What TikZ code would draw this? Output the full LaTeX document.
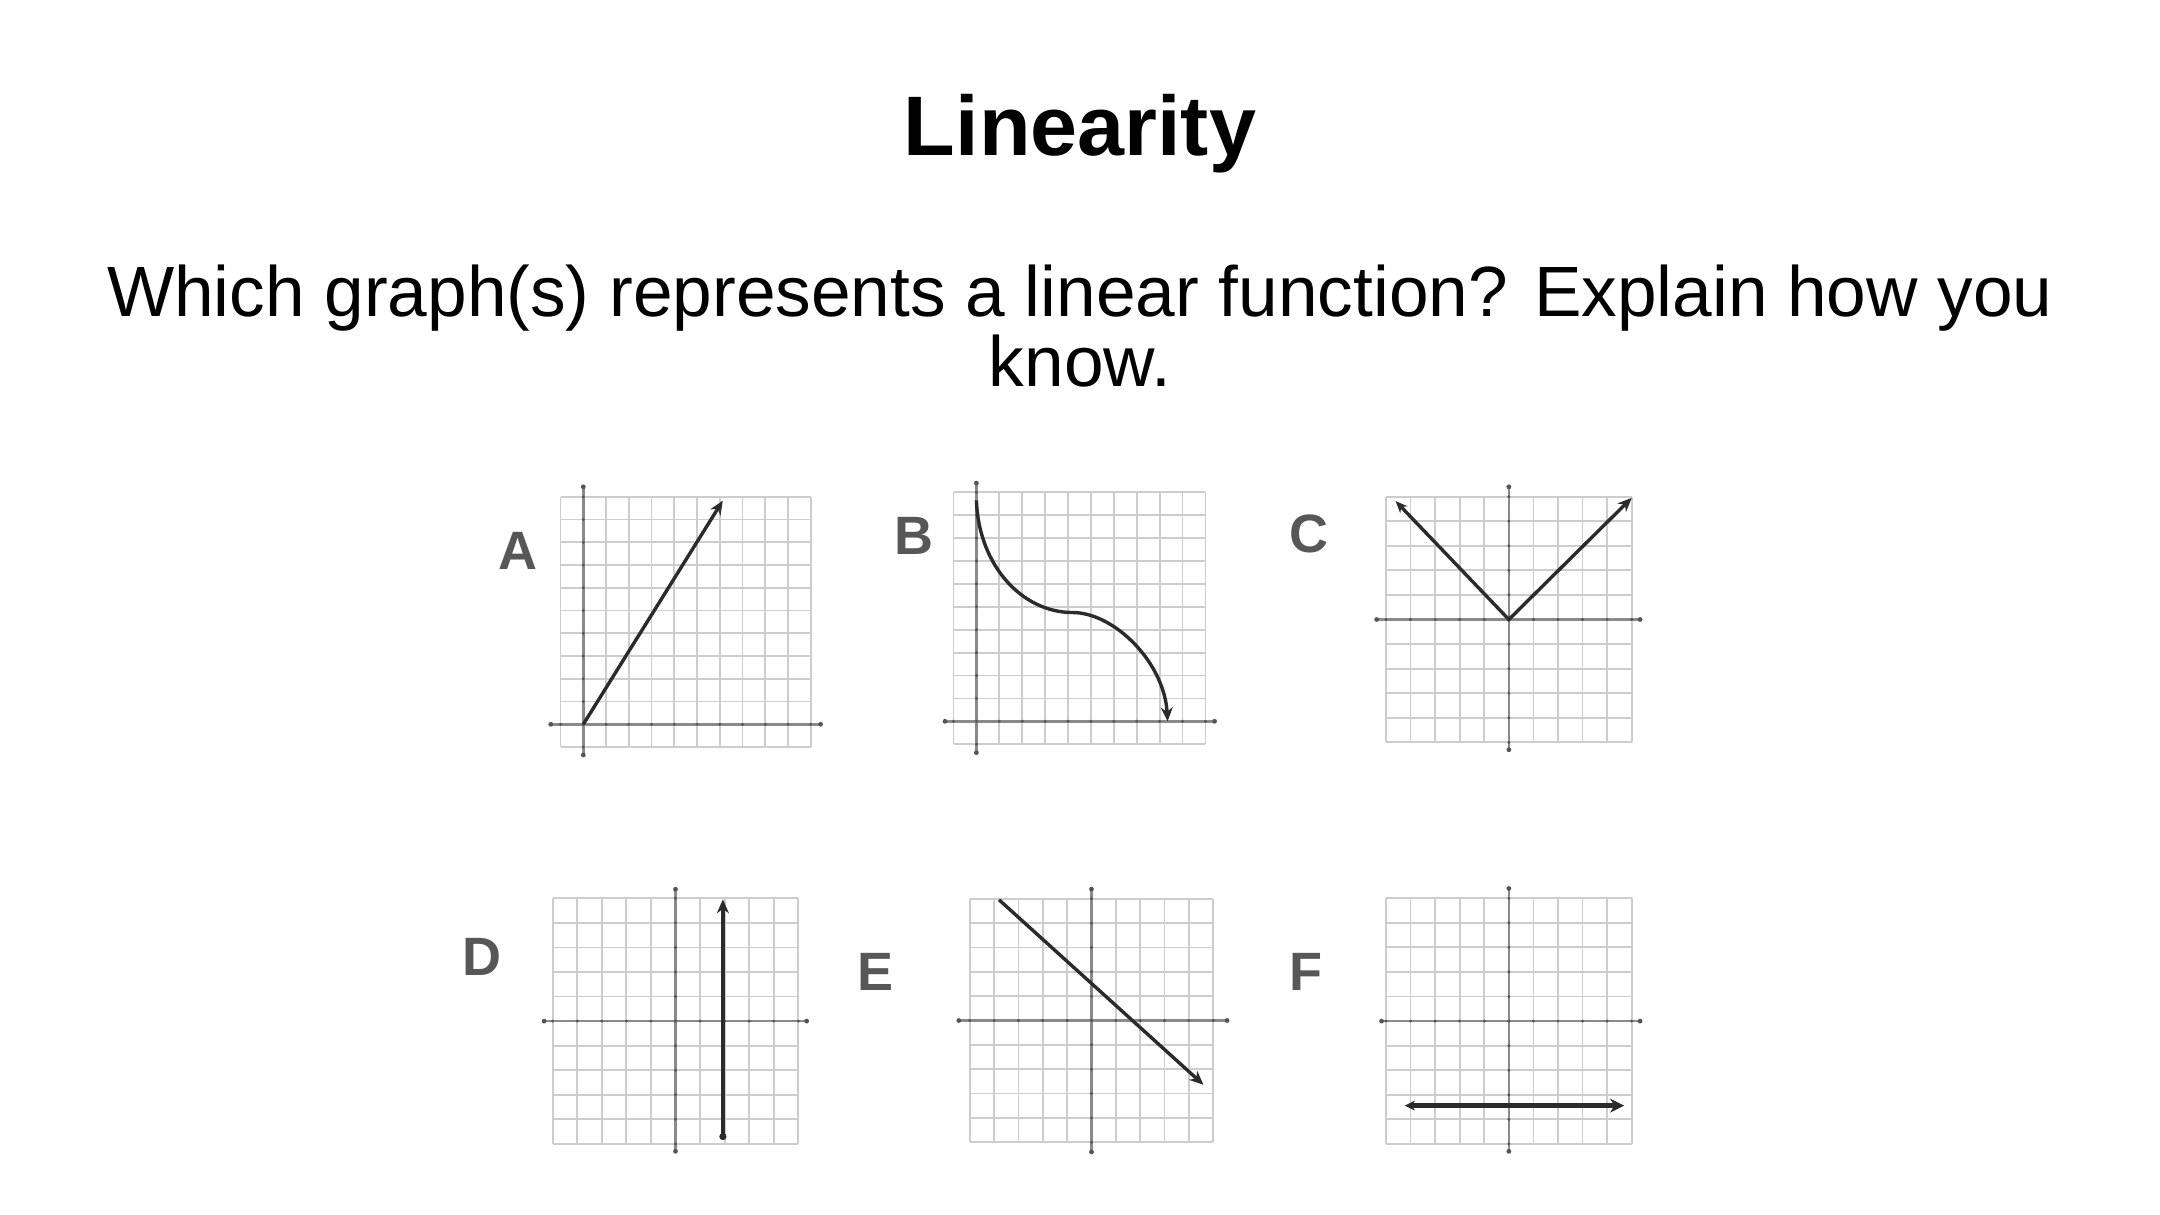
\documentclass[tikz,border=0pt]{standalone}
\usepackage{fontspec}
\setmainfont{Liberation Sans}
\usetikzlibrary{arrows.meta}
\definecolor{gridc}{HTML}{CDCDCD}
\definecolor{axisc}{HTML}{8A8A8A}
\definecolor{tickc}{HTML}{555555}
\definecolor{curvec}{HTML}{2B2B2B}
\definecolor{labelc}{HTML}{575757}
\newcommand{\gridaxes}[8]{%
  \foreach \i in {#1,...,#2} \draw[gridline] (\i,#3) -- (\i,#4);
  \foreach \j in {#3,...,#4} \draw[gridline] (#1,\j) -- (#2,\j);
  \draw[axisline] (#5,0) -- (#6,0);
  \draw[axisline] (0,#7) -- (0,#8);
  \foreach \i in {#1,...,#2} \fill[tickc] (\i,0) circle (0.8pt);
  \foreach \j in {#3,...,#4} \fill[tickc] (0,\j) circle (0.8pt);
  \fill[tickc] (#5,0) circle (1.2pt) (#6,0) circle (1.2pt) (0,#7) circle (1.2pt) (0,#8) circle (1.2pt);
}
\begin{document}
\begin{tikzpicture}[x=0.5pt,y=-0.5pt,
  gridline/.style={draw=gridc, line width=0.9pt},
  axisline/.style={draw=axisc, line width=1.2pt},
  curve/.style={draw=curvec, line width=1.7pt},
  bigtip/.style={-{Stealth[length=7pt,width=6pt]}},
  lbl/.style={font=\fontsize{27pt}{30pt}\selectfont\bfseries, text=labelc, inner sep=0pt}]
\useasboundingbox[fill=white] (0,0) rectangle (2160,1215);

% title and question
\node[anchor=base, inner sep=0pt, font=\fontsize{42.25pt}{50pt}\selectfont\bfseries] (title) at (1080,155) {Linearity};
\node[anchor=base, inner sep=0pt, font=\fontsize{35.6pt}{40pt}\selectfont] (q1) at (1080,316.7) {Which graph(s) represents a linear function? Explain how you};
\node[anchor=base, inner sep=0pt, font=\fontsize{35.6pt}{40pt}\selectfont] (q2) at (1080,386) {know.};

% labels
\node[lbl] (labA) at (518,551) {A};
\node[lbl] (labB) at (914,536) {B};
\node[lbl] (labC) at (1309,534) {C};
\node[lbl] (labD) at (482,957) {D};
\node[lbl] (labE) at (876,972) {E};
\node[lbl] (labF) at (1306,972) {F};

% graph A
\begin{scope}[shift={(583.3,724.3)}, x=11.375pt, y=11.375pt]
  \gridaxes{-1}{10}{-1}{10}{-1.43}{10.43}{-1.35}{10.44}
  \draw[curve, bigtip] (0,0) -- (6.13,9.83);
\end{scope}

% graph B
\begin{scope}[shift={(976.4,721.3)}, x=11.45pt, y=11.45pt]
  \gridaxes{-1}{10}{-1}{10}{-1.37}{10.4}{-1.37}{10.4}
  \coordinate (bs) at (0,9.65);
  \coordinate (bm) at (4.2,4.75);
  \coordinate (be) at (8.35,0);
  \draw[curve, bigtip] (bs) .. controls (0.1,6.8) and (2.0,4.75) .. (bm)
                           .. controls (6.0,4.75) and (8.2,2.6) .. (be);
\end{scope}

% graph C
\begin{scope}[shift={(1508.85,619.5)}, x=12.285pt, y=12.285pt]
  \gridaxes{-5}{5}{-5}{5}{-5.38}{5.34}{-5.3}{5.4}
  \draw[curve, {Stealth[length=6pt,width=5pt]}-{Stealth[length=7pt,width=6pt]}] (-4.61,4.82) -- (0,0) -- (5.0,4.95);
\end{scope}

% graph D
\begin{scope}[shift={(675.5,1021.1)}, x=12.28pt, y=12.28pt]
  \gridaxes{-5}{5}{-5}{5}{-5.35}{5.34}{-5.3}{5.37}
  \draw[curve, bigtip] (1.93,-4.7) -- (1.93,4.96);
  \fill[curvec] (1.93,-4.7) circle (1.8pt);
\end{scope}

% graph E
\begin{scope}[shift={(1091.5,1020.5)}, x=12.17pt, y=12.17pt]
  \gridaxes{-5}{5}{-5}{5}{-5.45}{5.57}{-5.4}{5.4}
  \draw[curve, bigtip] (-3.8,4.96) -- (4.6,-2.64);
\end{scope}

% graph F
\begin{scope}[shift={(1508.85,1021.1)}, x=12.285pt, y=12.285pt]
  \gridaxes{-5}{5}{-5}{5}{-5.18}{5.34}{-5.3}{5.4}
  \draw[curve, line width=2.4pt, {Stealth[length=5pt,width=5pt]}-{Stealth[length=7pt,width=7pt]}] (-4.23,-3.44) -- (4.69,-3.44);
\end{scope}
\end{tikzpicture}
\end{document}
